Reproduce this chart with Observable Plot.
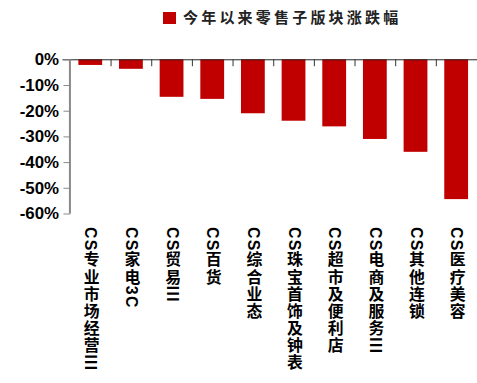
<!DOCTYPE html>
<html><head><meta charset="utf-8">
<script src="https://cdn.jsdelivr.net/npm/d3@7"></script>
<script src="https://cdn.jsdelivr.net/npm/@observablehq/plot@0.6"></script>
<style>
body{margin:0;background:#fff;width:477px;height:383px;overflow:hidden;}
#legend{position:relative;height:35px;width:477px;}
#legend .sw{position:absolute;left:163px;top:12px;width:13px;height:12px;background:#C00000;}
#legend .lt{position:absolute;left:183px;top:7px;font-family:"Noto Sans CJK SC";font-weight:bold;font-size:15px;line-height:20px;letter-spacing:3.2px;color:#222;white-space:nowrap;}
#chart{width:477px;overflow:hidden;}
</style></head><body>
<div id="legend"><span class="sw"></span><span class="lt"></span></div>
<div id="chart"></div>
<script>
const categories = ["CS专业市场经营III","CS家电3C","CS贸易III","CS百货","CS综合业态","CS珠宝首饰及钟表","CS超市及便利店","CS电商及服务III","CS其他连锁","CS医疗美容"];
const values = [-2.2, -3.7, -14.6, -15.4, -21.0, -23.9, -26.1, -31.0, -36.0, -54.4];
const yTicks = [0, -10, -20, -30, -40, -50, -60];
const legendLabel = "今年以来零售子版块涨跌幅";

document.querySelector("#legend .lt").textContent = legendLabel;
const data = categories.map((c, i) => ({name: c, value: values[i]}));

const chart = Plot.plot({
  width: 481, height: 348,
  marginLeft: 71, marginRight: 0, marginTop: 24.5, marginBottom: 168,
  style: {fontFamily: "'Liberation Sans', 'Noto Sans CJK SC', sans-serif", color: "#000", background: "#fff"},
  x: {domain: categories, paddingInner: 0.41, paddingOuter: 0.205},
  y: {domain: [-60, 0]},
  marks: [
    Plot.barY(data, {x: "name", y: "value", fill: "#C00000"}),
    Plot.ruleY([0], {stroke: "#222", strokeWidth: 1, insetLeft: -8}),
    Plot.ruleX(categories.slice(1), {x: d => d, y1: 0, y2: -2.7, dx: -20.5, stroke: "#333"}),
    Plot.ruleX([categories[0]], {x: d => d, y1: -60, y2: 0, dx: -21, stroke: "#888", strokeWidth: 2}),
    Plot.axisY({ticks: yTicks, tickFormat: d => d + "%", tickSize: 7, tickPadding: 5, stroke: "#888", fontSize: 17, fontWeight: "bold", label: null}),
    Plot.axisX({tickSize: 0, tickPadding: 13, fontSize: 16, fontWeight: "bold", label: null})
  ]
});
document.getElementById("chart").appendChild(chart);
d3.select(chart).selectAll('g[aria-label="x-axis tick label"] text')
  .attr("y", null).attr("dy", null)
  .attr("text-anchor", "start")
  .style("writing-mode", "vertical-rl")
  .style("letter-spacing", "1.3px");
</script>
</body></html>
